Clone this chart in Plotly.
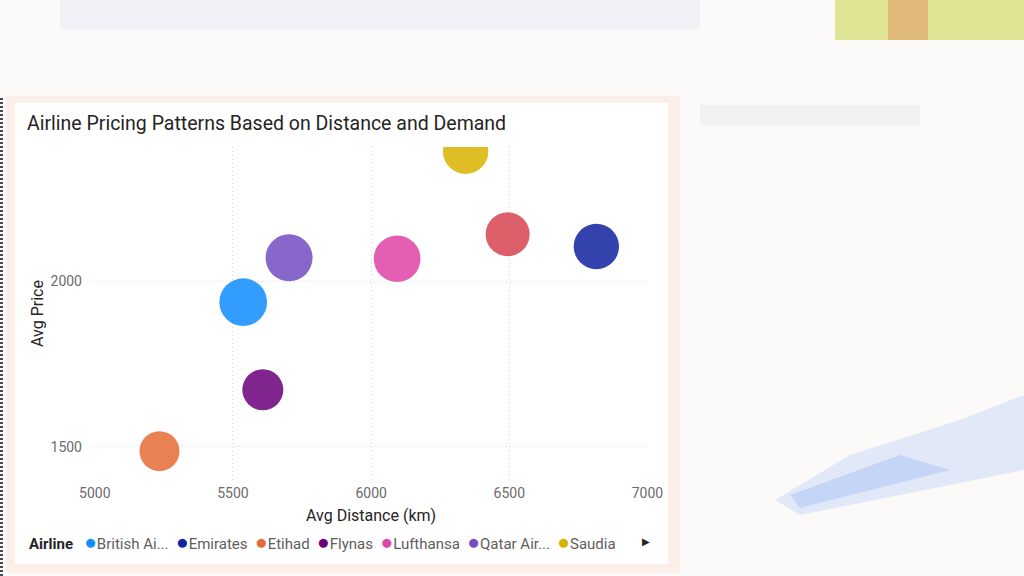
import plotly.graph_objects as go

# airline averages
airlines = ["British Airways", "Emirates", "Etihad", "Flynas", "Lufthansa",
            "Qatar Airways", "Saudia", "Turkish Airlines"]
avg_distance = [5537, 6815, 5234, 5608, 6094, 5703, 6342, 6494]
avg_price = [1936, 2104, 1487, 1672, 2067, 2070, 2391, 2141]
demand = [1138, 1026, 800, 841, 1090, 1105, 1030, 968]
legend_labels = ["British Ai...", "Emirates", "Etihad", "Flynas", "Lufthansa",
                 "Qatar Air...", "Saudia"]
x_ticks = [5000, 5500, 6000, 6500, 7000]
y_ticks = [1500, 2000]

colors = ["#118DFF", "#12239E", "#E66C37", "#6B007B", "#E044A7",
          "#744EC2", "#D9B300", "#D64550"]

W, H = 1024, 576
FONT = "Roboto"


def px(x):
    return x / W


def py(y):
    return 1 - y / H


fig = go.Figure()
sizeref = 2 * max(demand) / 47.7 ** 2
for i, name in enumerate(airlines):
    fig.add_trace(go.Scatter(
        x=[avg_distance[i]], y=[avg_price[i]], mode="markers", name=name,
        marker=dict(size=[demand[i]], sizemode="area", sizeref=sizeref,
                    color=colors[i], opacity=0.86, line=dict(width=0)),
        showlegend=False, hoverinfo="skip"))


def rect(x0, y0, x1, y1, color):
    return dict(type="rect", xref="paper", yref="paper", x0=px(x0), x1=px(x1),
                y0=py(y1), y1=py(y0), fillcolor=color, line_width=0, layer="below")


# blurred report page behind the visual, then the visual panel itself
shapes = [
    rect(60, 0, 700, 30, "rgba(190,200,240,0.16)"),
    rect(835, 0, 1024, 40, "rgba(205,215,80,0.6)"),
    rect(888, 0, 928, 40, "rgba(225,120,80,0.4)"),
    rect(700, 105, 920, 125, "rgba(0,0,0,0.035)"),
    dict(type="path", xref="paper", yref="paper", layer="below", line_width=0,
         fillcolor="rgba(130,170,245,0.22)",
         path="M %f %f L %f %f L %f %f L %f %f L %f %f L %f %f Z" % (
             px(775), py(500), px(850), py(455), px(960), py(420), px(1024), py(395),
             px(1024), py(470), px(800), py(515))),
    dict(type="path", xref="paper", yref="paper", layer="below", line_width=0,
         fillcolor="rgba(130,170,245,0.3)",
         path="M %f %f L %f %f L %f %f L %f %f Z" % (
             px(790), py(495), px(900), py(455), px(950), py(470), px(800), py(508))),
    rect(6, 96, 680, 573, "#fcefea"),
    rect(15, 103, 668, 564, "white"),
    dict(type="line", xref="paper", yref="paper", x0=px(1.5), x1=px(1.5), y0=py(576), y1=py(98),
         line=dict(color="#4a4a4a", width=3, dash="2px,2px"), layer="below"),
]

legend_text = "<b style='color:#252423'>Airline</b>   "
for label, color in zip(legend_labels, colors):
    legend_text += ("<span style='color:%s;font-size:21px'>●</span>%s  " % (color, label))

annotations = [
    dict(text=legend_text.rstrip(), xref="paper", yref="paper", x=px(27), y=py(542),
         xanchor="left", yanchor="middle", showarrow=False,
         font=dict(family=FONT, size=15, color="#605E5C")),
    dict(text="▶", xref="paper", yref="paper", x=px(646), y=py(541),
         xanchor="center", yanchor="middle", showarrow=False,
         font=dict(size=10, color="#252423")),
    dict(text="Avg Distance (km)", xref="paper", yref="paper", x=px(371), y=py(515),
         xanchor="center", yanchor="middle", showarrow=False,
         font=dict(family=FONT, size=16, color="#252423")),
    dict(text="Avg Price", xref="paper", yref="paper", x=px(37), y=py(314), textangle=-90,
         xanchor="center", yanchor="middle", showarrow=False,
         font=dict(family=FONT, size=16, color="#252423")),
]

axis_style = dict(showgrid=True, gridcolor="#d9d9d9", griddash="1px,3px", gridwidth=1,
                  zeroline=False, showline=False, automargin=False,
                  tickfont=dict(family=FONT, size=14, color="#6b6b6b"))

fig.update_layout(
    width=W, height=H,
    margin=dict(l=0, r=0, t=0, b=0),
    paper_bgcolor="#fcfaf9", plot_bgcolor="rgba(0,0,0,0)",
    font=dict(family=FONT, color="#605E5C"),
    title=dict(text="Airline Pricing Patterns Based on Distance and Demand",
               x=px(27), y=py(123), xanchor="left", yanchor="middle",
               font=dict(family=FONT, size=19.5, color="#252423")),
    shapes=shapes,
    annotations=annotations,
    xaxis=dict(domain=[px(94), px(648.3)], range=[4997, 7003], tickvals=x_ticks,
               ticklabelstandoff=3, **axis_style),
    yaxis=dict(domain=[py(480), py(147)], range=[1400, 2404], tickvals=y_ticks,
               ticklabelstandoff=11, **axis_style),
)

fig.write_html("out.html", config={"displayModeBar": False},
               post_script="document.body.style.margin = '0';")
